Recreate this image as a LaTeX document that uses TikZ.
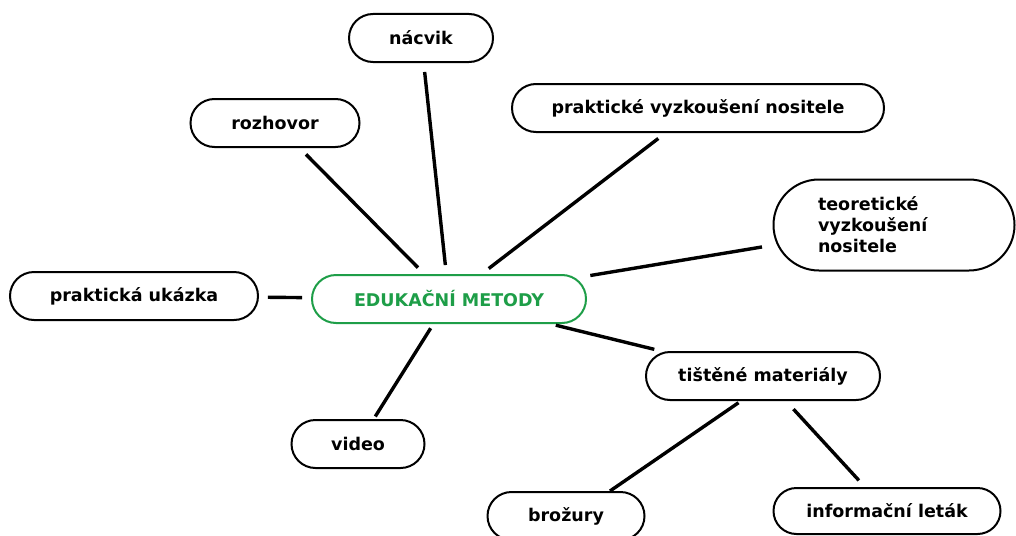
\documentclass[tikz,border=0pt]{standalone}
\usepackage{fontspec}
\setmainfont{DejaVu Sans}
\usepackage{xcolor}
\usetikzlibrary{shapes.misc}
\definecolor{edugreen}{RGB}{30,158,72}
\tikzstyle{leaf box}=[
        draw = black,
        line width = 2pt,
        rounded rectangle,
        fill = white,
        minimum height = 48pt,
        inner sep = 0pt,
        font = \fontsize{17.5}{21}\selectfont\bfseries
    ]
\tikzstyle{main box}=[
    leaf box,
    draw = edugreen,
    text = edugreen
]
\tikzstyle{link}=[
    line width = 3.4pt,
    shorten > = 9pt,
    shorten < = 9pt
]

\begin{document}
\begin{tikzpicture}[x=1pt, y=-1pt]
        \useasboundingbox (0,0) rectangle (1016,535);

        \node[main box, minimum width = 274pt] (edu) at (449,299) {EDUKAČNÍ METODY};
        \node[leaf box, minimum width = 144pt] (nacvik) at (421,38) {nácvik};
        \node[leaf box, minimum width = 169pt] (rozhovor) at (275,123) {rozhovor};
        \node[leaf box, minimum width = 372pt] (prakvyzk) at (698,108) {praktické vyzkoušení nositele};
        \node[leaf box, minimum width = 241pt, minimum height = 91pt, text width = 152pt, align = left] (teorvyzk) at (894,225) {teoretické\\vyzkoušení\\nositele};
        \node[leaf box, minimum width = 248pt] (ukazka) at (134,296) {praktická ukázka};
        \node[leaf box, minimum width = 234pt] (tistene) at (763,376) {tištěné materiály};
        \node[leaf box, minimum width = 133pt] (video) at (358,444) {video};
        \node[leaf box, minimum width = 157pt] (brozury) at (566,516) {brožury};
        \node[leaf box, minimum width = 227pt, minimum height = 46pt] (letak) at (887,511) {informační leták};

        \draw[link] (nacvik) -- (edu);
        \draw[link] (rozhovor) -- (edu);
        \draw[link] (prakvyzk) -- (edu);
        \draw[link, shorten < = 15pt, shorten > = 15pt] (edu) -- (teorvyzk);
        \draw[link] (ukazka) -- (edu);
        \draw[link, shorten < = 5pt, shorten > = 10pt] (edu) -- (tistene);
        \draw[link, shorten < = 5pt, shorten > = 3pt] (edu) -- (video);
        \draw[link, shorten < = 3pt, shorten > = 0pt] ([xshift=-22pt]tistene.south) -- ([xshift=44pt]brozury.north);
        \draw[link, shorten < = 11pt, shorten > = 9pt] (tistene) -- (letak);

    \end{tikzpicture}
\end{document}
